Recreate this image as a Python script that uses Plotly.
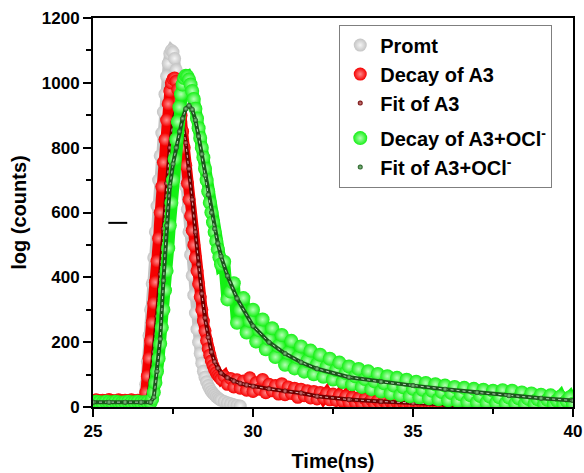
import plotly.graph_objects as go

# ---------------- data ----------------
prompt_t = [26.55, 26.60, 26.65, 26.70, 26.75, 26.80, 26.85, 26.90, 26.95, 27.00,
            27.05, 27.10, 27.15, 27.20, 27.25, 27.30, 27.35, 27.40, 27.45, 27.50,
            27.55, 27.60, 27.65, 27.70, 27.75, 27.80, 27.85, 27.90, 27.95, 28.00,
            28.05, 28.10, 28.15, 28.20, 28.25, 28.30, 28.35, 28.40, 28.45, 28.50,
            28.55, 28.60, 28.65, 28.70, 28.75, 28.80, 28.85, 28.90, 28.95, 29.00,
            29.10, 29.20, 29.30, 29.40, 29.50, 29.60]
prompt_counts = [5, 25, 70, 140, 220, 300, 380, 460, 540, 620,
                 700, 775, 845, 910, 965, 1020, 1060, 1090, 1100, 1095,
                 1075, 1040, 995, 940, 880, 815, 750, 680, 610, 540,
                 470, 405, 345, 290, 240, 200, 165, 135, 110, 92,
                 78, 66, 56, 48, 42, 37, 32, 28, 24, 21,
                 17, 13, 10, 7, 5, 3]

a3_t = [25.0, 25.1, 25.2, 25.3, 25.4, 25.5, 25.6, 25.7, 25.8, 25.9, 26.0, 26.1, 26.2,
        26.3, 26.4, 26.5, 26.6,
        26.65, 26.70, 26.75, 26.80, 26.85, 26.90, 26.95, 27.00, 27.05, 27.10,
        27.15, 27.20, 27.25, 27.30, 27.35, 27.40, 27.45, 27.50, 27.55, 27.60,
        27.65, 27.70, 27.75, 27.80, 27.85, 27.90, 27.95, 28.00, 28.05, 28.10,
        28.15, 28.20, 28.25, 28.30, 28.35, 28.40, 28.45, 28.50, 28.55, 28.60,
        28.65, 28.70, 28.75, 28.80, 28.85, 28.90, 28.95, 29.00,
        29.1, 29.2, 29.3, 29.4, 29.5, 29.6, 29.7, 29.8, 29.9, 30.0,
        30.1, 30.2, 30.3, 30.4, 30.5, 30.6, 30.7, 30.8, 30.9, 31.0,
        31.1, 31.2, 31.3, 31.4, 31.5, 31.6, 31.7, 31.8, 31.9, 32.0,
        32.1, 32.2, 32.3, 32.4, 32.5, 32.6, 32.7, 32.8, 32.9, 33.0,
        33.1, 33.2, 33.3, 33.4, 33.5, 33.6, 33.7, 33.8, 33.9, 34.0,
        34.1, 34.2, 34.3, 34.4, 34.5, 34.6, 34.7, 34.8, 34.9, 35.0,
        35.1, 35.2, 35.3, 35.4, 35.5, 35.6, 35.7, 35.8, 35.9, 36.0,
        36.1, 36.2, 36.3, 36.4]
a3_counts = [20, 22, 19, 21, 20, 23, 20, 19, 22, 20, 21, 20, 22,
             19, 21, 20, 22,
             45, 95, 150, 205, 260, 320, 385, 450, 520, 600,
             680, 755, 825, 885, 935, 975, 1000, 1012, 1015, 1005,
             980, 945, 900, 850, 800, 745, 690, 640, 590, 545,
             500, 460, 420, 380, 340, 300, 265, 235, 205, 180,
             160, 142, 128, 116, 106, 98, 92, 86,
             95, 70, 88, 62, 84, 58, 80, 52, 90, 48,
             75, 55, 85, 44, 70, 50, 66, 40, 72, 38,
             62, 42, 58, 30, 55, 35, 50, 28, 48, 25,
             45, 28, 42, 22, 40, 20, 36, 18, 33, 15,
             30, 14, 27, 11, 25, 12, 22, 9, 20, 8,
             18, 7, 16, 6, 14, 5, 13, 5, 11, 4,
             10, 4, 9, 3, 8, 3, 7, 3, 6, 2,
             5, 2, 4, 2]

a3_fit_t = [26.6, 26.7, 26.8, 26.9, 27.0, 27.1, 27.2, 27.3, 27.4, 27.5, 27.6, 27.7,
            27.8, 27.9, 28.0, 28.1, 28.2, 28.3, 28.4, 28.5, 28.6, 28.7, 28.8, 28.9,
            29.0, 29.2, 29.4, 29.6, 29.8, 30.0, 30.5, 31.0, 31.5, 32.0, 33.0, 34.0,
            35.0, 36.0, 36.4]
a3_fit_counts = [5, 20, 80, 170, 280, 410, 550, 690, 800, 880, 920, 915,
                 875, 815, 735, 640, 540, 440, 350, 275, 215, 170, 140, 120,
                 105, 90, 80, 73, 68, 64, 56, 49, 43, 33, 23, 17,
                 12, 8, 6]

ocl_t = [25.0, 25.1, 25.2, 25.3, 25.4, 25.5, 25.6, 25.7, 25.8, 25.9, 26.0, 26.1, 26.2,
         26.3, 26.4, 26.5, 26.6, 26.7, 26.8,
         26.85, 26.90, 26.95, 27.00, 27.05, 27.10, 27.15, 27.20, 27.25, 27.30,
         27.35, 27.40, 27.45, 27.50, 27.55, 27.60, 27.65, 27.70, 27.75, 27.80,
         27.85, 27.90, 27.95, 28.00, 28.05, 28.10, 28.15, 28.20, 28.25, 28.30,
         28.35, 28.40, 28.45, 28.50, 28.55, 28.60, 28.65, 28.70, 28.75, 28.80,
         28.85, 28.90, 28.95, 29.00,
         29.1, 29.2, 29.3, 29.4, 29.5, 29.6, 29.7, 29.8, 29.9, 30.0,
         30.1, 30.2, 30.3, 30.4, 30.5, 30.6, 30.7, 30.8, 30.9, 31.0,
         31.1, 31.2, 31.3, 31.4, 31.5, 31.6, 31.7, 31.8, 31.9, 32.0,
         32.1, 32.2, 32.3, 32.4, 32.5, 32.6, 32.7, 32.8, 32.9, 33.0,
         33.1, 33.2, 33.3, 33.4, 33.5, 33.6, 33.7, 33.8, 33.9, 34.0,
         34.1, 34.2, 34.3, 34.4, 34.5, 34.6, 34.7, 34.8, 34.9, 35.0,
         35.1, 35.2, 35.3, 35.4, 35.5, 35.6, 35.7, 35.8, 35.9, 36.0,
         36.1, 36.2, 36.3, 36.4, 36.5, 36.6, 36.7, 36.8, 36.9, 37.0,
         37.1, 37.2, 37.3, 37.4, 37.5, 37.6, 37.7, 37.8, 37.9, 38.0,
         38.1, 38.2, 38.3, 38.4, 38.5, 38.6, 38.7, 38.8, 38.9, 39.0,
         39.1, 39.2, 39.3, 39.4, 39.5, 39.6, 39.7, 39.8, 39.9, 40.0]
ocl_counts = [14, 16, 15, 13, 16, 15, 14, 16, 15, 13, 15, 16, 14,
              15, 16, 14, 15, 15, 14,
              25, 45, 75, 110, 150, 195, 245, 300, 360, 420,
              490, 560, 630, 700, 765, 825, 880, 925, 965, 995,
              1015, 1022, 1020, 1010, 995, 975, 950, 920, 890, 860,
              830, 800, 770, 735, 700, 665, 630, 600, 570, 540,
              512, 486, 462, 440,
              448, 332, 356, 382, 260, 299, 336, 230, 266, 300,
              202, 237, 270, 178, 210, 243, 154, 188, 222, 130,
              167, 204, 119, 153, 187, 109, 142, 174, 101, 131,
              161, 93, 124, 149, 85, 114, 137, 77, 105, 125,
              70, 95, 117, 62, 86, 110, 55, 79, 102, 48,
              73, 95, 42, 66, 90, 37, 61, 84, 33, 56,
              78, 30, 53, 74, 27, 50, 70, 24, 46, 66,
              21, 43, 62, 18, 39, 59, 16, 36, 56, 15,
              34, 53, 14, 32, 50, 13, 30, 52, 12, 29,
              50, 11, 27, 45, 10, 25, 42, 10, 24, 38,
              10, 22, 36, 10, 20, 32, 10, 19, 30, 10]

ocl_fit_t = [25.0, 25.5, 26.0, 26.5, 26.8, 26.9, 27.0, 27.1, 27.2, 27.3, 27.4, 27.5,
             27.6, 27.7, 27.8, 27.9, 28.0, 28.1, 28.2, 28.3, 28.4, 28.5, 28.6, 28.7,
             28.8, 28.9, 29.0, 29.2, 29.5, 30.0, 30.5, 31.0, 31.5, 32.0, 33.0, 34.0,
             35.0, 36.0, 37.0, 38.0, 39.0, 40.0]
ocl_fit_counts = [15, 15, 15, 15, 15, 30, 110, 210, 390, 560, 680, 750,
                  800, 850, 890, 920, 930, 918, 885, 835, 780, 715, 655, 600,
                  550, 505, 465, 405, 335, 250, 200, 165, 138, 118, 92, 78,
                  66, 55, 45, 35, 27, 20]

stray_t = [25.48, 26.07]
stray_counts = [568, 568]

x_ticks = [25, 30, 35, 40]
y_ticks = [0, 200, 400, 600, 800, 1000, 1200]

names = ["Promt", "Decay of A3", "Fit of A3",
         "Decay of A3+OCl<sup>-</sup>", "Fit of A3+OCl<sup>-</sup>"]

# ---------------- figure ----------------
FONT = "Liberation Sans, Arial, sans-serif"
fig = go.Figure()


def sphere(x, y, name, edge, center, size, group, rank):
    # continuous body of the overlapping spheres
    fig.add_trace(go.Scatter(x=x, y=y, mode="lines", showlegend=False, hoverinfo="skip",
                             legendgroup=group,
                             line=dict(color=edge, width=size - 2)))
    fig.add_trace(go.Scatter(
        x=x, y=y, mode="markers", name=name, legendgroup=group, legendrank=rank,
        marker=dict(size=size, color=edge, line=dict(width=0),
                    gradient=dict(type="radial", color=center))))


def fit(x, y, name, dark, bead, group, rank):
    fig.add_trace(go.Scatter(x=x, y=y, mode="lines", showlegend=False, hoverinfo="skip",
                             legendgroup=group,
                             line=dict(color=dark, width=4)))
    fig.add_trace(go.Scatter(x=x, y=y, mode="lines", showlegend=False, hoverinfo="skip",
                             legendgroup=group,
                             line=dict(color="rgba(255,255,255,0.7)", width=1, dash="dot")))
    fig.add_trace(go.Scatter(
        x=x, y=y, mode="markers", name=name, legendgroup=group, legendrank=rank,
        marker=dict(size=5, color=dark, line=dict(width=0),
                    gradient=dict(type="radial", color=bead))))


sphere(prompt_t, prompt_counts, names[0], "#c4c4c4", "#f4f4f4", 13, "g1", 1)
sphere(a3_t, a3_counts, names[1], "#f50000", "#ff8a8a", 13, "g1", 2)
fit(a3_fit_t, a3_fit_counts, names[2], "#6e0000", "#d08a8a", "g1", 3)
sphere(ocl_t, ocl_counts, names[3], "#14f014", "#b4ffb4", 14, "g2", 4)
fit(ocl_fit_t, ocl_fit_counts, names[4], "#1c561c", "#8fc88f", "g2", 5)

fig.add_trace(go.Scatter(x=stray_t, y=stray_counts, mode="lines", showlegend=False,
                         hoverinfo="skip", line=dict(color="black", width=2)))

axis_common = dict(
    showline=True, linecolor="black", linewidth=2, mirror=True,
    ticks="outside", ticklen=8, tickwidth=2, tickcolor="black",
    showgrid=False, zeroline=False, automargin=False,
    tickfont=dict(family=FONT, size=17, color="black", weight="bold"),
)

fig.update_xaxes(
    range=[25, 40], tickvals=x_ticks,
    minor=dict(ticks="outside", ticklen=5, tickwidth=2, tickcolor="black", dtick=2.5,
               tick0=25, showgrid=False),
    title=dict(text="Time(ns)", font=dict(family=FONT, size=20, color="black", weight="bold"),
               standoff=14),
    **axis_common)
fig.update_yaxes(
    range=[0, 1200], tickvals=y_ticks,
    minor=dict(ticks="outside", ticklen=5, tickwidth=2, tickcolor="black", dtick=100,
               tick0=0, showgrid=False),
    title=dict(text="log (counts)", font=dict(family=FONT, size=20, color="black", weight="bold"),
               standoff=10),
    **axis_common)

fig.update_layout(
    width=584, height=473,
    margin=dict(l=93, r=11, t=18, b=66),
    paper_bgcolor="white", plot_bgcolor="white",
    showlegend=True,
    legend=dict(
        x=0.513, y=0.983, xanchor="left", yanchor="top",
        bgcolor="white", bordercolor="#7f7f7f", borderwidth=1,
        font=dict(family=FONT, size=20, color="black", weight="bold"),
        traceorder="grouped", tracegroupgap=6, itemsizing="trace",
    ),
)

fig.write_html("out.html")
